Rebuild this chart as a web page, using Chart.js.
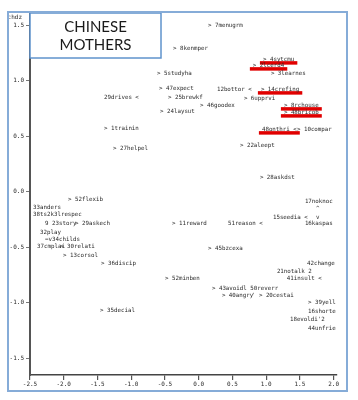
<!DOCTYPE html>
<html>
<head>
<meta charset="utf-8">
<script src="https://cdn.jsdelivr.net/npm/chart.js@4"></script>
<style>
  html, body { margin: 0; padding: 0; background: #fff; }
  #wrap { position: relative; width: 358px; height: 400px; }
</style>
</head>
<body>
<div id="wrap"><canvas id="plot" width="358" height="400"></canvas></div>
<script>
// item labels and their coordinates on the two dimensions
const itemLabels = [
  "> 7menugrm", "> 8kenmper", "> 4sytcmu", "> 2lcerd4", "> 3learnes", "> 5studyha",
  "> 47expect", "12bottor <", "> 14crefing", "> 25brewkf", "> 6upprvi", "29drives <",
  "> 46goodex", "> 8rchouse", "> 24laysut", "> 48bricob", "> 1trainin", "48onthri <",
  "> 10compar", "> 27helpel", "> 22aleept", "> 28askdst", "> 52flexib", "17noknoc",
  "^", "33anders", "38ts2k3lrespec", "15seedia <", "v", "> 11reward",
  "51reason <", "16kaspas", "9 23story", "> 29askech", "32play", "=v34childs",
  "37cmplai", "> 30relati", "> 13corsol", "> 45bzcexa", "> 36discip", "42change",
  "21notalk 2", "> 52minben", "41insult <", "> 43avoidl 50reverr", "> 40angry", "' > 20cestai",
  "> 39yell", "> 35decial", "16shorte", "18evoldi'2", "44unfrie"
];
const dim1 = [
  0.137, -0.380, 0.952, 0.803, 1.070, -0.619,
  -0.589, 0.270, 0.922, -0.456, 0.670, -1.404,
  0.019, 1.263, -0.574, 1.263, -1.404, 0.937,
  1.456, -1.270, 0.611, 0.907, -1.937, 1.574,
  1.737, -2.456, -2.456, 1.100, 1.737, -0.396,
  0.433, 1.574, -2.278, -1.833, -2.352, -2.278,
  -2.396, -2.056, -2.011, 0.137, -1.448, 1.604,
  1.159, -0.500, 1.307, 0.196, 0.344, 0.789,
  1.619, -1.463, 1.619, 1.352, 1.619
];
const dim2 = [
  1.495, 1.288, 1.189, 1.135, 1.063, 1.063,
  0.928, 0.919, 0.919, 0.847, 0.838, 0.847,
  0.775, 0.775, 0.721, 0.712, 0.568, 0.559,
  0.559, 0.387, 0.414, 0.126, -0.072, -0.090,
  -0.153, -0.144, -0.207, -0.234, -0.234, -0.288,
  -0.288, -0.288, -0.288, -0.288, -0.369, -0.432,
  -0.495, -0.495, -0.577, -0.514, -0.649, -0.649,
  -0.721, -0.784, -0.784, -0.874, -0.937, -0.937,
  -1.000, -1.072, -1.081, -1.153, -1.234
];
// labels marked with a red underline
const underlined = ["> 4sytcmu", "> 2lcerd4", "> 14crefing", "> 8rchouse", "> 48bricob", "48onthri <"];

const xTicks = [-2.5, -2.0, -1.5, -1.0, -0.5, 0.0, 0.5, 1.0, 1.5, 2.0];
const yTicks = [-1.5, -1.0, -0.5, 0.0, 0.5, 1.0, 1.5];
const titleLines = ["CHINESE", "MOTHERS"];
const yName = "chdz";

const labelFont = "5.8px 'DejaVu Sans Mono', monospace";
const inkColor = "#2a2a2a";

const points = itemLabels.map((t, i) => ({ x: dim1[i], y: dim2[i] }));

const decor = {
  id: "decor",
  afterDatasetsDraw(chart) {
    const ctx = chart.ctx;
    const meta = chart.getDatasetMeta(0);
    ctx.save();
    ctx.font = labelFont;
    ctx.textAlign = "left";
    ctx.textBaseline = "middle";
    meta.data.forEach((pt, i) => {
      const txt = itemLabels[i];
      if (underlined.includes(txt)) {
        const w = ctx.measureText(txt).width;
        ctx.fillStyle = "#e00000";
        ctx.fillRect(pt.x - 3, pt.y + 1.5, w + 6, 3.5);
      }
      ctx.fillStyle = inkColor;
      ctx.fillText(txt, pt.x, pt.y);
    });
    ctx.restore();
  },
  afterDraw(chart) {
    const ctx = chart.ctx;
    const area = chart.chartArea;
    ctx.save();
    // axis name
    ctx.font = "6px 'DejaVu Sans Mono', monospace";
    ctx.fillStyle = inkColor;
    ctx.textAlign = "right";
    ctx.textBaseline = "middle";
    ctx.fillText(yName, area.left - 8, area.top + 3);
    // title box
    const bx = area.left, by = 13, bw = 131, bh = 45;
    ctx.fillStyle = "#fff";
    ctx.fillRect(bx, by, bw, bh);
    ctx.strokeStyle = "#5f93cc";
    ctx.lineWidth = 1.5;
    ctx.strokeRect(bx, by, bw, bh);
    ctx.fillStyle = "#1a1a1a";
    ctx.font = "15px 'Liberation Sans Narrow', Lato, sans-serif";
    ctx.textAlign = "center";
    titleLines.forEach((l, i) => ctx.fillText(l, bx + bw / 2, by + 14 + i * 18));
    // outer frame
    ctx.strokeStyle = "#86acd8";
    ctx.lineWidth = 2;
    ctx.strokeRect(8, 12, 339, 379);
    ctx.restore();
  }
};

new Chart(document.getElementById("plot"), {
  type: "scatter",
  data: {
    datasets: [{
      data: points,
      pointRadius: 0,
      pointHoverRadius: 0,
      showLine: false
    }]
  },
  options: {
    responsive: false,
    animation: false,
    events: [],
    layout: { padding: { left: 8, top: 14, right: 21, bottom: 0 } },
    plugins: { legend: { display: false }, tooltip: { enabled: false } },
    scales: {
      x: {
        type: "linear",
        min: -2.5,
        max: 2.05,
        afterFit: (s) => { s.height = 25; },
        afterBuildTicks: (s) => { s.ticks = xTicks.map((v) => ({ value: v })); },
        ticks: {
          callback: (v) => v.toFixed(1),
          font: { family: "DejaVu Sans Mono", size: 6 },
          color: inkColor,
          padding: 1,
          maxRotation: 0,
          autoSkip: false
        },
        grid: { drawOnChartArea: false, drawTicks: true, tickLength: 5, color: "#555", lineWidth: 1.2 },
        border: { display: true, color: "#444", width: 1.5 }
      },
      y: {
        type: "linear",
        min: -1.65,
        max: 1.6,
        afterFit: (s) => { s.width = 22; },
        afterBuildTicks: (s) => { s.ticks = yTicks.map((v) => ({ value: v })); },
        ticks: {
          callback: (v) => v.toFixed(1),
          font: { family: "DejaVu Sans Mono", size: 6 },
          color: inkColor,
          padding: 2,
          autoSkip: false
        },
        grid: { drawOnChartArea: false, drawTicks: true, tickLength: 4, color: "#777", lineWidth: 1 },
        border: { display: true, color: "#555", width: 2 }
      }
    }
  },
  plugins: [decor]
});
</script>
</body>
</html>
